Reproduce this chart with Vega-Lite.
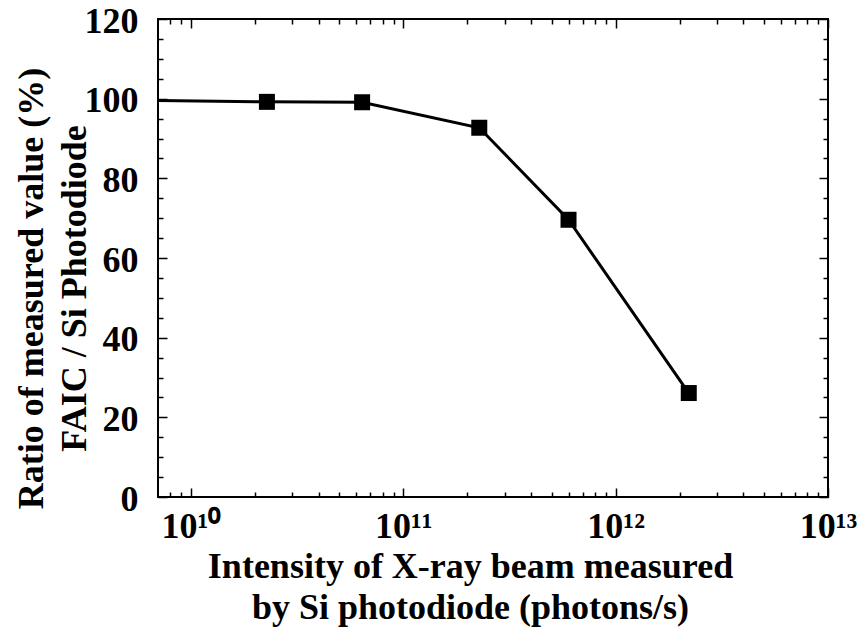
{
  "$schema": "https://vega.github.io/schema/vega-lite/v6.json",
  "width": 670,
  "height": 478,
  "autosize": {"type": "none"},
  "padding": {"left": 158, "top": 19, "right": 37, "bottom": 137},
  "background": "white",
  "config": {
    "view": {"stroke": "black", "strokeWidth": 2},
    "font": "Liberation Serif"
  },
  "data": {
    "values": [
      {"intensity": 5e9, "ratio": 99.6},
      {"intensity": 2.28e10, "ratio": 99.2},
      {"intensity": 6.4e10, "ratio": 99.1},
      {"intensity": 2.28e11, "ratio": 92.7},
      {"intensity": 6.0e11, "ratio": 69.6},
      {"intensity": 2.21e12, "ratio": 26.1}
    ]
  },
  "layer": [
    {
      "mark": {"type": "line", "color": "black", "strokeWidth": 3, "clip": true},
      "encoding": {
        "x": {
          "field": "intensity", "type": "quantitative",
          "scale": {"type": "log", "domain": [7e9, 1e13], "nice": false},
          "axis": {
            "orient": "bottom",
            "values": [8e9, 9e9, 1e10, 2e10, 3e10, 4e10, 5e10, 6e10, 7e10, 8e10, 9e10, 1e11, 2e11, 3e11, 4e11, 5e11, 6e11, 7e11, 8e11, 9e11, 1e12, 2e12, 3e12, 4e12, 5e12, 6e12, 7e12, 8e12, 9e12, 1e13],
            "labelExpr": "datum.value == 1e10 ? '10¹⁰' : datum.value == 1e11 ? '10¹¹' : datum.value == 1e12 ? '10¹²' : datum.value == 1e13 ? '10¹³' : ''",
            "labelFont": "Liberation Serif", "labelFontSize": 36, "labelFontWeight": "bold", "labelColor": "black",
            "labelBaseline": "alphabetic", "labelAlign": "center", "labelPadding": 49, "labelOverlap": false, "labelFlush": false,
            "tickColor": "black", "tickWidth": 1.5,
            "tickSize": {"condition": {"test": "datum.value == 1e10 || datum.value == 1e11 || datum.value == 1e12 || datum.value == 1e13", "value": -9}, "value": -5},
            "domain": false, "grid": false,
            "title": ["Intensity of X-ray beam measured", "by Si photodiode (photons/s)"],
            "titleFont": "Liberation Serif", "titleFontSize": 36, "titleFontWeight": "bold", "titleColor": "black",
            "titleLineHeight": 41, "titleBaseline": "alphabetic", "titleX": 312, "titleY": 80, "titleAnchor": "middle", "titleAlign": "center"
          }
        },
        "y": {
          "field": "ratio", "type": "quantitative",
          "scale": {"domain": [0, 120], "nice": false, "zero": false},
          "axis": {
            "orient": "left",
            "values": [0, 5, 10, 15, 20, 25, 30, 35, 40, 45, 50, 55, 60, 65, 70, 75, 80, 85, 90, 95, 100, 105, 110, 115, 120],
            "labelExpr": "datum.value % 20 == 0 ? datum.label : ''",
            "labelFont": "Liberation Serif", "labelFontSize": 36, "labelFontWeight": "bold", "labelColor": "black",
            "labelPadding": 29, "labelOffset": 2, "labelOverlap": false, "labelFlush": false,
            "tickColor": "black", "tickWidth": 1.5,
            "tickSize": {"condition": {"test": "datum.value % 20 == 0", "value": -9}, "value": -5},
            "domain": false, "grid": false,
            "title": ["Ratio of measured value (%)", "FAIC / Si Photodiode"],
            "titleFont": "Liberation Serif", "titleFontSize": 36, "titleFontWeight": "bold", "titleColor": "black",
            "titleLineHeight": 43, "titleBaseline": "alphabetic", "titleAlign": "center", "titleAngle": -90,
            "titleX": -116, "titleY": 269
          }
        }
      }
    },
    {
      "mark": {"type": "square", "color": "black", "opacity": 1, "size": 256, "clip": true},
      "encoding": {
        "x": {
          "field": "intensity", "type": "quantitative",
          "axis": {
            "orient": "top",
            "values": [8e9, 9e9, 1e10, 2e10, 3e10, 4e10, 5e10, 6e10, 7e10, 8e10, 9e10, 1e11, 2e11, 3e11, 4e11, 5e11, 6e11, 7e11, 8e11, 9e11, 1e12, 2e12, 3e12, 4e12, 5e12, 6e12, 7e12, 8e12, 9e12, 1e13],
            "labels": false, "domain": false, "grid": false, "title": null,
            "tickColor": "black", "tickWidth": 1.5,
            "tickSize": {"condition": {"test": "datum.value == 1e10 || datum.value == 1e11 || datum.value == 1e12 || datum.value == 1e13", "value": -9}, "value": -5}
          }
        },
        "y": {
          "field": "ratio", "type": "quantitative",
          "axis": {
            "orient": "right",
            "values": [0, 5, 10, 15, 20, 25, 30, 35, 40, 45, 50, 55, 60, 65, 70, 75, 80, 85, 90, 95, 100, 105, 110, 115, 120],
            "labels": false, "domain": false, "grid": false, "title": null,
            "tickColor": "black", "tickWidth": 1.5,
            "tickSize": {"condition": {"test": "datum.value % 20 == 0", "value": -9}, "value": -5}
          }
        }
      }
    }
  ],
  "resolve": {"axis": {"x": "independent", "y": "independent"}}
}
